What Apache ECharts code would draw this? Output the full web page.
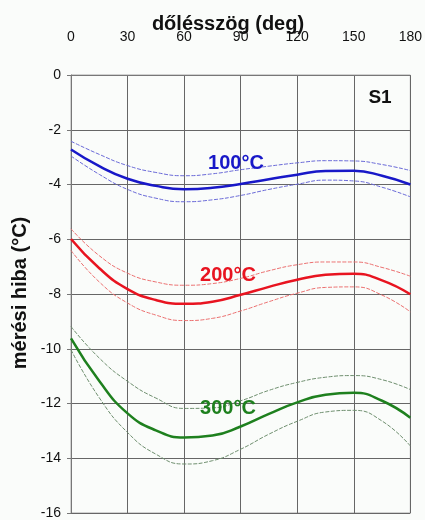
<!DOCTYPE html>
<html>
<head>
<meta charset="utf-8">
<style>
  html, body { margin: 0; padding: 0; background: #fafcfa; }
  #chart { width: 425px; height: 520px; }
</style>
<script src="https://cdn.jsdelivr.net/npm/echarts@6/dist/echarts.min.js"></script>
</head>
<body>
<div id="chart"></div>
<script>
// Tilt angle (deg) at which each curve is sampled
const angles = [0, 15, 30, 45, 60, 75, 90, 105, 120, 135, 150, 165, 180];

// Measurement error (°C) – mean and band limits per temperature
const t100Mean  = [-2.72, -3.33, -3.79, -4.05, -4.17, -4.12, -3.98, -3.81, -3.64, -3.51, -3.50, -3.68, -4.00];
const t100Upper = [-2.42, -2.90, -3.31, -3.56, -3.68, -3.61, -3.46, -3.33, -3.21, -3.13, -3.14, -3.27, -3.49];
const t100Lower = [-2.96, -3.63, -4.18, -4.50, -4.63, -4.56, -4.40, -4.18, -3.99, -3.84, -3.87, -4.10, -4.45];

const t200Mean  = [-5.99, -7.06, -7.82, -8.22, -8.36, -8.28, -8.03, -7.74, -7.48, -7.30, -7.26, -7.50, -8.01];
const t200Upper = [-5.62, -6.60, -7.24, -7.56, -7.68, -7.62, -7.43, -7.15, -6.93, -6.83, -6.83, -7.03, -7.35];
const t200Lower = [-6.41, -7.56, -8.33, -8.77, -8.97, -8.89, -8.62, -8.28, -7.97, -7.76, -7.74, -8.04, -8.65];

const t300Mean  = [-9.62, -11.18, -12.36, -12.98, -13.24, -13.17, -12.84, -12.38, -11.96, -11.68, -11.61, -11.90, -12.52];
const t300Upper = [-9.19, -10.34, -11.19, -11.80, -12.18, -12.16, -11.90, -11.52, -11.23, -11.04, -10.98, -11.13, -11.49];
const t300Lower = [-10.04, -11.79, -13.06, -13.85, -14.21, -14.09, -13.67, -13.12, -12.65, -12.31, -12.25, -12.64, -13.55];

// Axis ticks
const xTicks = [0, 30, 60, 90, 120, 150, 180];
const yTicks = [0, -2, -4, -6, -8, -10, -12, -14, -16];

const FONT = 'Liberation Sans, Arial, sans-serif';

function pairs(ys) { return angles.map((a, i) => [a, ys[i]]); }

function meanLine(ys, color) {
  return {
    type: 'line', data: pairs(ys), smooth: 0.5, symbol: 'none', silent: true,
    lineStyle: { color: color, width: 2.5 }, z: 3
  };
}
function bandLine(ys, color) {
  return {
    type: 'line', data: pairs(ys), smooth: 0.5, symbol: 'none', silent: true,
    lineStyle: { color: color, width: 1, type: [4, 1.5] }, z: 2
  };
}

const chart = echarts.init(document.getElementById('chart'), null, { renderer: 'canvas' });

chart.setOption({
  backgroundColor: '#fafcfa',
  animation: false,
  grid: {
    left: 71, right: 13, top: 75, bottom: 4,
    show: true, borderColor: '#a8a8a8', borderWidth: 1, backgroundColor: 'transparent'
  },
  xAxis: {
    type: 'value', position: 'top',
    min: xTicks[0], max: xTicks[xTicks.length - 1], interval: 30,
    axisLine: { show: true, lineStyle: { color: '#777', width: 1 } },
    axisTick: { show: false },
    axisLabel: { margin: 31, color: '#111', fontSize: 14, fontFamily: FONT },
    splitLine: { show: true, lineStyle: { color: '#666', width: 1 } }
  },
  yAxis: {
    type: 'value',
    min: yTicks[yTicks.length - 1], max: yTicks[0], interval: 2,
    axisLine: { show: true, lineStyle: { color: '#777', width: 1 } },
    axisTick: { show: true, length: 4, lineStyle: { color: '#777' } },
    axisLabel: { margin: 10, color: '#111', fontSize: 14, fontFamily: FONT },
    splitLine: { show: true, lineStyle: { color: '#666', width: 1 } }
  },
  series: [
    bandLine(t100Upper, '#6a6ad8'),
    bandLine(t100Lower, '#6a6ad8'),
    meanLine(t100Mean, '#1818c8'),
    bandLine(t200Upper, '#ec7070'),
    bandLine(t200Lower, '#ec7070'),
    meanLine(t200Mean, '#e81420'),
    bandLine(t300Upper, '#6f8f6f'),
    bandLine(t300Lower, '#6f8f6f'),
    meanLine(t300Mean, '#1e801e')
  ],
  graphic: [
    { type: 'text', x: 228, y: 24, style: { text: 'dőlésszög (deg)', font: 'bold 20px ' + FONT, fill: '#111', align: 'center', verticalAlign: 'middle' } },
    { type: 'text', x: 20, y: 293, rotation: Math.PI / 2, style: { text: 'mérési hiba (°C)', font: 'bold 20px ' + FONT, fill: '#111', align: 'center', verticalAlign: 'middle' } },
    { type: 'text', x: 380, y: 98, style: { text: 'S1', font: 'bold 19px ' + FONT, fill: '#111', align: 'center', verticalAlign: 'middle' } },
    { type: 'text', x: 236, y: 163, style: { text: '100°C', font: 'bold 20px ' + FONT, fill: '#1818c8', align: 'center', verticalAlign: 'middle' }, z: 10 },
    { type: 'text', x: 228, y: 275, style: { text: '200°C', font: 'bold 20px ' + FONT, fill: '#e81420', align: 'center', verticalAlign: 'middle' }, z: 10 },
    { type: 'text', x: 228, y: 408, style: { text: '300°C', font: 'bold 20px ' + FONT, fill: '#1e801e', align: 'center', verticalAlign: 'middle' }, z: 10 }
  ]
});
</script>
</body>
</html>
